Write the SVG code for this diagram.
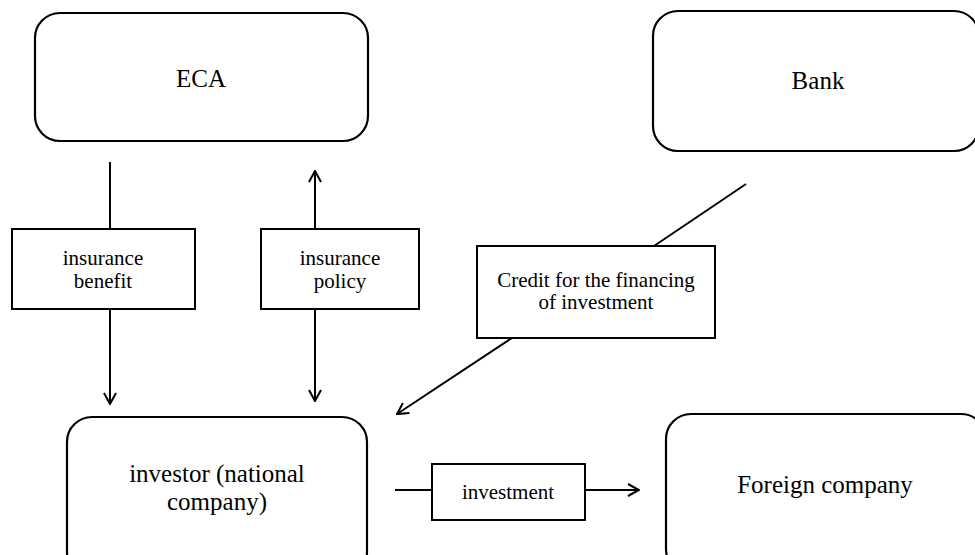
<svg xmlns="http://www.w3.org/2000/svg" width="975" height="555" viewBox="0 0 975 555">
<defs>
<marker id="arr" viewBox="0 0 14 14" refX="13" refY="7" markerWidth="14" markerHeight="14" markerUnits="userSpaceOnUse" orient="auto">
<path d="M2,1 L13,7 L2,13" fill="none" stroke="#000" stroke-width="2"/>
</marker>
<style>
.node{fill:#fff;stroke:#000;stroke-width:2.2}
.lbl{fill:#fff;stroke:#000;stroke-width:2}
.conn line{stroke:#000;stroke-width:2;fill:none}
text{font-family:"Liberation Serif","Times New Roman",serif;fill:#000;text-anchor:middle}
.big{font-size:25px}
.small{font-size:21px}
</style>
</defs>
<rect width="975" height="555" fill="#fff"/>
<g class="conn" id="connectors">
<line x1="110" y1="162" x2="110" y2="229"/>
<line x1="110" y1="309" x2="110" y2="404" marker-end="url(#arr)"/>
<line x1="315" y1="229" x2="315" y2="171" marker-end="url(#arr)"/>
<line x1="315" y1="309" x2="315" y2="401" marker-end="url(#arr)"/>
<line x1="746" y1="184" x2="654" y2="246"/>
<line x1="512" y1="338" x2="397" y2="414" marker-end="url(#arr)"/>
<line x1="395" y1="490" x2="432" y2="490"/>
<line x1="585" y1="490" x2="639" y2="490" marker-end="url(#arr)"/>
</g>
<g id="eca">
<rect class="node" x="35" y="13" width="333" height="128" rx="25" ry="25"/>
<text class="big" x="201" y="87">ECA</text>
</g>
<g id="bank">
<rect class="node" x="653" y="11" width="326" height="140" rx="25" ry="25"/>
<text class="big" x="818" y="89">Bank</text>
</g>
<g id="investor">
<rect class="node" x="67" y="417" width="300" height="160" rx="25" ry="25"/>
<text class="big" x="217" y="482">investor (national</text>
<text class="big" x="217" y="510">company)</text>
</g>
<g id="foreign">
<rect class="node" x="666" y="414" width="320" height="160" rx="25" ry="25"/>
<text class="big" x="825" y="493">Foreign company</text>
</g>
<g id="insurance-benefit">
<rect class="lbl" x="12" y="229" width="183" height="80"/>
<text class="small" x="103" y="265">insurance</text>
<text class="small" x="103" y="288">benefit</text>
</g>
<g id="insurance-policy">
<rect class="lbl" x="261" y="229" width="158" height="80"/>
<text class="small" x="340" y="265">insurance</text>
<text class="small" x="340" y="288">policy</text>
</g>
<g id="credit">
<rect class="lbl" x="477" y="246" width="238" height="92"/>
<text class="small" x="596" y="287">Credit for the financing</text>
<text class="small" x="596" y="309">of investment</text>
</g>
<g id="investment">
<rect class="lbl" x="432" y="464" width="153" height="56"/>
<text class="small" x="508" y="499">investment</text>
</g>
</svg>
